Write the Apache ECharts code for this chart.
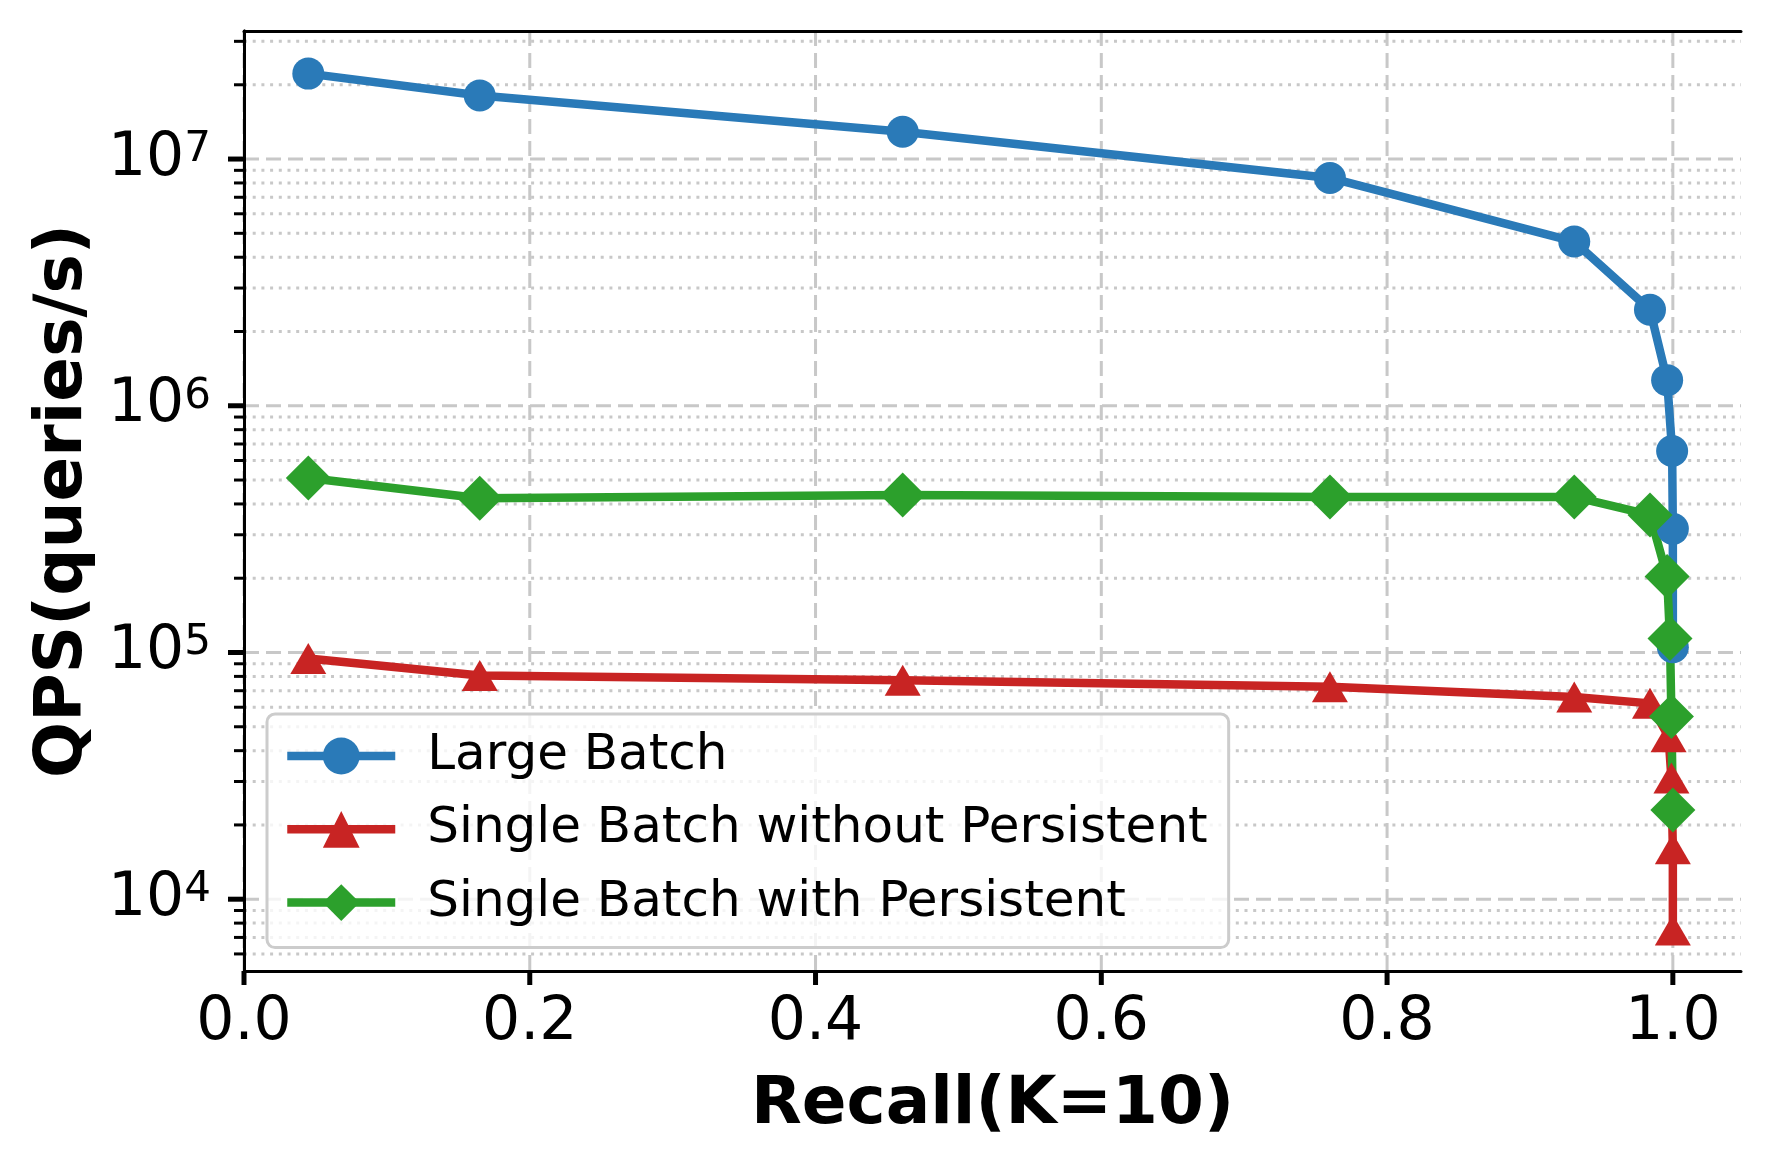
<!DOCTYPE html>
<html><head><meta charset="utf-8">
<script src="https://cdn.jsdelivr.net/npm/echarts@6/dist/echarts.min.js"></script>
<style>html,body{margin:0;padding:0;background:#fff}#c{width:1769px;height:1170px}</style>
</head><body><div id="c"></div>
<script>
// ---- data ----
const seriesNames = ['Large Batch', 'Single Batch without Persistent', 'Single Batch with Persistent'];
const recallLarge = [0.045, 0.165, 0.461, 0.760, 0.931, 0.984, 0.996, 0.9995, 1.0, 1.0];
const qpsLarge    = [2.22e7, 1.81e7, 1.29e7, 8.38e6, 4.63e6, 2.45e6, 1.27e6, 6.56e5, 3.17e5, 1.05e5];
const recallNoPersist = [0.045, 0.165, 0.461, 0.760, 0.931, 0.984, 0.997, 0.999, 1.0, 1.0];
const qpsNoPersist    = [9.45e4, 8.06e4, 7.72e4, 7.26e4, 6.6e4, 6.22e4, 4.56e4, 3.1e4, 1.6e4, 7.5e3];
const recallPersist = [0.045, 0.165, 0.461, 0.760, 0.931, 0.984, 0.996, 0.998, 0.999, 1.0];
const qpsPersist    = [5.1e5, 4.22e5, 4.35e5, 4.27e5, 4.27e5, 3.61e5, 2.03e5, 1.14e5, 5.5e4, 2.3e4];
const xTickValues = [0, 0.2, 0.4, 0.6, 0.8, 1.0];
const yMajorTickValues = [1e4, 1e5, 1e6, 1e7];

// ---- layout / style ----
const X_MIN = 0, X_MAX = 1.0477;
const Y_MIN = Math.pow(10, 3.709), Y_MAX = Math.pow(10, 7.519);
const FONT = 'DejaVu Sans';
const GRID_COLOR = '#c8c8c8';
const COLORS = ['#2a7ab8', '#c82423', '#2ca02c'];

const yMinorTickValues = [];
[1e3, 1e4, 1e5, 1e6, 1e7].forEach(d => {
  for (let m = 2; m <= 9; m++) { const v = m * d; if (v > Y_MIN && v < Y_MAX) yMinorTickValues.push(v); }
});

const zip = (xs, ys) => xs.map((x, i) => [x, ys[i]]);

const guideData = [];
xTickValues.forEach(v => guideData.push([v, Y_MIN, 0]));
yMajorTickValues.forEach(v => guideData.push([X_MIN, v, 1]));
yMinorTickValues.forEach(v => guideData.push([X_MIN, v, 2]));

function renderGuide(params, api) {
  const cs = params.coordSys;
  const kind = api.value(2);
  if (kind === 0) {
    const p = api.coord([api.value(0), Y_MIN]);
    const bottom = cs.y + cs.height;
    return { type: 'group', children: [
      { type: 'line', shape: { x1: p[0], y1: cs.y, x2: p[0], y2: bottom },
        style: { stroke: GRID_COLOR, lineWidth: 3, lineDash: [15, 7] } },
      { type: 'line', shape: { x1: p[0], y1: bottom, x2: p[0], y2: bottom + 14 },
        style: { stroke: '#000', lineWidth: 5 } }
    ]};
  }
  const p = api.coord([X_MIN, api.value(1)]);
  const left = cs.x, right = cs.x + cs.width;
  if (kind === 1) {
    return { type: 'group', children: [
      { type: 'line', shape: { x1: left, y1: p[1], x2: right, y2: p[1] },
        style: { stroke: GRID_COLOR, lineWidth: 3, lineDash: [15, 7] } },
      { type: 'line', shape: { x1: left - 16, y1: p[1], x2: left, y2: p[1] },
        style: { stroke: '#000', lineWidth: 5 } }
    ]};
  }
  return { type: 'group', children: [
    { type: 'line', shape: { x1: left, y1: p[1], x2: right, y2: p[1] },
      style: { stroke: GRID_COLOR, lineWidth: 3, lineDash: [3, 5.7] } },
    { type: 'line', shape: { x1: left - 10, y1: p[1], x2: left, y2: p[1] },
      style: { stroke: '#000', lineWidth: 3 } }
  ]};
}

const chart = echarts.init(document.getElementById('c'), null, { renderer: 'canvas' });
const option = {
  animation: false,
  backgroundColor: '#fff',
  textStyle: { fontFamily: FONT },
  grid: { left: 244, right: 28, top: 31, bottom: 199, containLabel: false, outerBoundsMode: 'none' },
  legend: {
    data: seriesNames,
    orient: 'vertical',
    left: 267, top: 714,
    padding: [17, 21, 20, 16],
    itemWidth: 108, itemHeight: 46, itemGap: 23.3,
    backgroundColor: 'rgba(255,255,255,0.8)',
    borderColor: '#cccccc', borderWidth: 3, borderRadius: 8,
    lineStyle: { width: 8.5 },
    textStyle: { fontFamily: FONT, fontSize: 50, lineHeight: 50, color: '#000', padding: [0, 0, 0, 27] },
    z: 10
  },
  xAxis: [{
    type: 'value', position: 'bottom', min: X_MIN, max: X_MAX, interval: 0.2, z: 3,
    axisLine: { show: true, lineStyle: { color: '#000', width: 3 } },
    axisTick: { show: false },
    splitLine: { show: false },
    axisLabel: {
      margin: 22, fontSize: 60, fontFamily: FONT, color: '#000',
      formatter: v => (v > 1.0001 ? '' : v.toFixed(1))
    },
    name: 'Recall(K=10)', nameLocation: 'middle', nameGap: 102,
    nameTextStyle: { fontFamily: FONT, fontSize: 66, fontWeight: 'bold', color: '#000' }
  }, {
    type: 'value', position: 'top', min: X_MIN, max: X_MAX, interval: 0.2, z: 3,
    axisLine: { show: true, lineStyle: { color: '#000', width: 3 } },
    axisTick: { show: false }, axisLabel: { show: false }, splitLine: { show: false }
  }],
  yAxis: [{
    type: 'log', logBase: 10, position: 'left', min: Y_MIN, max: Y_MAX, z: 3,
    axisLine: { show: true, lineStyle: { color: '#000', width: 3 } },
    axisTick: { show: false },
    splitLine: { show: false },
    minorTick: { show: false }, minorSplitLine: { show: false },
    axisLabel: {
      margin: 33, color: '#000',
      formatter: v => {
        const e = Math.log10(v), r = Math.round(e);
        if (Math.abs(e - r) > 1e-6 || r < 4 || r > 7) return '';
        return '{b|10}{s|' + r + '}';
      },
      rich: {
        b: { fontSize: 60, lineHeight: 60, fontFamily: FONT, color: '#000' },
        s: { fontSize: 42, lineHeight: 26, verticalAlign: 'top', fontFamily: FONT, color: '#000' }
      }
    },
    name: 'QPS(queries/s)', nameLocation: 'middle', nameGap: 142,
    nameTextStyle: { fontFamily: FONT, fontSize: 66, fontWeight: 'bold', color: '#000' }
  }, {
    type: 'log', logBase: 10, position: 'right', min: Y_MIN, max: Y_MAX, z: 3,
    axisLine: { show: true, lineStyle: { color: '#000', width: 3 } },
    axisTick: { show: false }, axisLabel: { show: false }, splitLine: { show: false }
  }],
  series: [
    {
      type: 'custom', xAxisIndex: 0, yAxisIndex: 0, z: 1, silent: true, clip: false,
      renderItem: renderGuide, data: guideData
    },
    {
      name: seriesNames[0], type: 'line', xAxisIndex: 0, yAxisIndex: 0, z: 2,
      data: zip(recallLarge, qpsLarge),
      symbol: 'circle', symbolSize: 32,
      lineStyle: { color: COLORS[0], width: 8.5 },
      itemStyle: { color: COLORS[0] }
    },
    {
      name: seriesNames[1], type: 'line', xAxisIndex: 0, yAxisIndex: 0, z: 2,
      data: zip(recallNoPersist, qpsNoPersist),
      symbol: 'triangle', symbolSize: [36, 31],
      lineStyle: { color: COLORS[1], width: 8.5 },
      itemStyle: { color: COLORS[1] }
    },
    {
      name: seriesNames[2], type: 'line', xAxisIndex: 0, yAxisIndex: 0, z: 2,
      data: zip(recallPersist, qpsPersist),
      symbol: 'diamond', symbolSize: [45, 45],
      lineStyle: { color: COLORS[2], width: 8.5 },
      itemStyle: { color: COLORS[2] }
    }
  ]
};
chart.setOption(option);
</script>
</body></html>
